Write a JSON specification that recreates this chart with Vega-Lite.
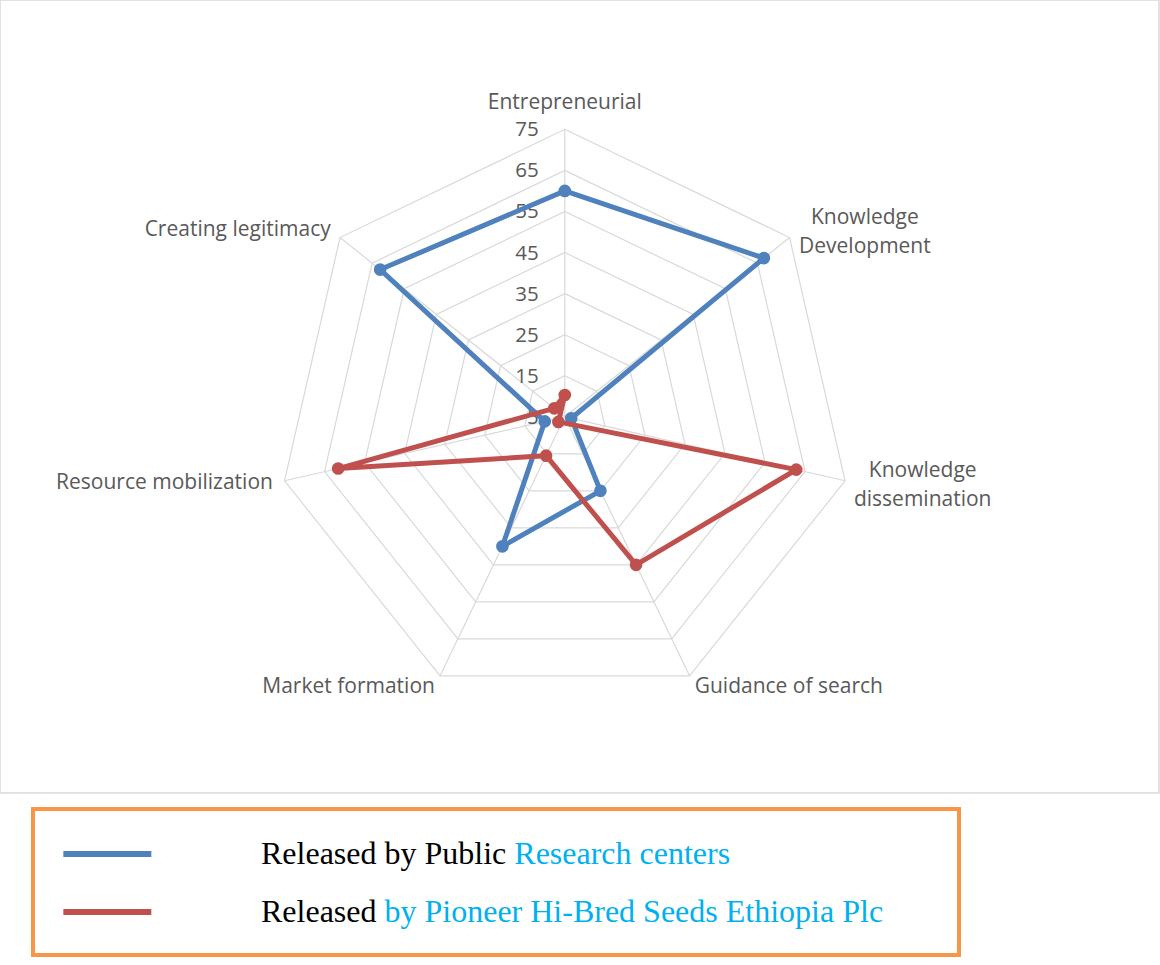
{
  "$schema": "https://vega.github.io/schema/vega-lite/v6.json",
  "width": 1159,
  "height": 793,
  "autosize": {"type": "none"},
  "padding": {"left": 0, "top": 0, "right": 1, "bottom": 172},
  "background": "white",
  "datasets": {
    "axes": [
      {"axis": "Entrepreneurial", "label": "Entrepreneurial", "i": 0},
      {"axis": "Knowledge Development", "label": "Knowledge\nDevelopment", "i": 1},
      {"axis": "Knowledge dissemination", "label": "Knowledge\ndissemination", "i": 2},
      {"axis": "Guidance of search", "label": "Guidance of search", "i": 3},
      {"axis": "Market formation", "label": "Market formation", "i": 4},
      {"axis": "Resource mobilization", "label": "Resource mobilization", "i": 5},
      {"axis": "Creating legitimacy", "label": "Creating legitimacy", "i": 6}
    ],
    "rings": [
      {"level": 15, "i": [0, 1, 2, 3, 4, 5, 6]},
      {"level": 25, "i": [0, 1, 2, 3, 4, 5, 6]},
      {"level": 35, "i": [0, 1, 2, 3, 4, 5, 6]},
      {"level": 45, "i": [0, 1, 2, 3, 4, 5, 6]},
      {"level": 55, "i": [0, 1, 2, 3, 4, 5, 6]},
      {"level": 65, "i": [0, 1, 2, 3, 4, 5, 6]},
      {"level": 75, "i": [0, 1, 2, 3, 4, 5, 6]}
    ],
    "ticks": [
      {"level": 75}, {"level": 65}, {"level": 55}, {"level": 45},
      {"level": 35}, {"level": 25}, {"level": 15}, {"level": 5}
    ],
    "scores": [
      {"series": "Released by Public Research centers", "axis": "Entrepreneurial", "i": 0, "value": 60},
      {"series": "Released by Public Research centers", "axis": "Knowledge Development", "i": 1, "value": 67},
      {"series": "Released by Public Research centers", "axis": "Knowledge dissemination", "i": 2, "value": 6.6},
      {"series": "Released by Public Research centers", "axis": "Guidance of search", "i": 3, "value": 25},
      {"series": "Released by Public Research centers", "axis": "Market formation", "i": 4, "value": 40},
      {"series": "Released by Public Research centers", "axis": "Resource mobilization", "i": 5, "value": 10},
      {"series": "Released by Public Research centers", "axis": "Creating legitimacy", "i": 6, "value": 62.5},
      {"series": "Released by Pioneer Hi-Bred Seeds Ethiopia Plc", "axis": "Entrepreneurial", "i": 0, "value": 10.3},
      {"series": "Released by Pioneer Hi-Bred Seeds Ethiopia Plc", "axis": "Knowledge Development", "i": 1, "value": 3},
      {"series": "Released by Pioneer Hi-Bred Seeds Ethiopia Plc", "axis": "Knowledge dissemination", "i": 2, "value": 62.8},
      {"series": "Released by Pioneer Hi-Bred Seeds Ethiopia Plc", "axis": "Guidance of search", "i": 3, "value": 45},
      {"series": "Released by Pioneer Hi-Bred Seeds Ethiopia Plc", "axis": "Market formation", "i": 4, "value": 15.5},
      {"series": "Released by Pioneer Hi-Bred Seeds Ethiopia Plc", "axis": "Resource mobilization", "i": 5, "value": 61.6},
      {"series": "Released by Pioneer Hi-Bred Seeds Ethiopia Plc", "axis": "Creating legitimacy", "i": 6, "value": 8.3}
    ],
    "legendrest": [
      {"rest": "Research centers"},
      {"rest": "by Pioneer Hi-Bred Seeds Ethiopia Plc"}
    ]
  },
  "layer": [
    {
      "data": {"name": "rings"},
      "transform": [
        {"flatten": ["i"]},
        {"calculate": "(datum.level - 5) * sin(datum.i * 2 * PI / 7)", "as": "x"},
        {"calculate": "(datum.level - 5) * cos(datum.i * 2 * PI / 7)", "as": "y"}
      ],
      "mark": {"type": "line", "interpolate": "linear-closed", "stroke": "#d9d9d9", "strokeWidth": 1.2},
      "encoding": {
        "x": {"field": "x", "type": "quantitative", "scale": {"domain": [-137.52, 144.68], "nice": false, "zero": false}, "axis": null},
        "y": {"field": "y", "type": "quantitative", "scale": {"domain": [-91.6, 101.49], "nice": false, "zero": false}, "axis": null},
        "detail": {"field": "level", "type": "nominal"},
        "order": {"field": "i", "type": "quantitative"}
      }
    },
    {
      "data": {"name": "axes"},
      "transform": [
        {"calculate": "70 * sin(datum.i * 2 * PI / 7)", "as": "ox"},
        {"calculate": "70 * cos(datum.i * 2 * PI / 7)", "as": "oy"},
        {"calculate": "0", "as": "cx"}
      ],
      "mark": {"type": "rule", "stroke": "#d9d9d9", "strokeWidth": 1.2},
      "encoding": {
        "x": {"field": "ox", "type": "quantitative"},
        "y": {"field": "oy", "type": "quantitative"},
        "x2": {"field": "cx"},
        "y2": {"field": "cx"}
      }
    },
    {
      "data": {"name": "ticks"},
      "transform": [
        {"calculate": "datum.level - 5", "as": "r"},
        {"calculate": "0", "as": "cx"}
      ],
      "mark": {"type": "text", "align": "right", "baseline": "middle", "dx": -26, "dy": 1, "font": "Open Sans", "fontSize": 20.5, "color": "#595959"},
      "encoding": {
        "x": {"field": "cx", "type": "quantitative"},
        "y": {"field": "r", "type": "quantitative"},
        "text": {"field": "level", "type": "quantitative"}
      }
    },
    {
      "data": {"name": "axes"},
      "transform": [
        {"calculate": "72.9 * sin(datum.i * 2 * PI / 7)", "as": "lx"},
        {"calculate": "72.9 * cos(datum.i * 2 * PI / 7)", "as": "ly"},
        {"filter": "datum.i == 0"}
      ],
      "mark": {"type": "text", "align": "center", "baseline": "middle", "dy": -14, "font": "Open Sans", "fontSize": 21, "color": "#595959"},
      "encoding": {
        "x": {"field": "lx", "type": "quantitative"},
        "y": {"field": "ly", "type": "quantitative"},
        "text": {"field": "label", "type": "nominal"}
      }
    },
    {
      "data": {"name": "axes"},
      "transform": [
        {"calculate": "72.9 * sin(datum.i * 2 * PI / 7)", "as": "lx"},
        {"calculate": "72.9 * cos(datum.i * 2 * PI / 7)", "as": "ly"},
        {"filter": "datum.i == 1 || datum.i == 2"}
      ],
      "mark": {"type": "text", "align": "center", "baseline": "middle", "dx": 66, "dy": -12, "lineBreak": "\n", "lineHeight": 29, "font": "Open Sans", "fontSize": 21, "color": "#595959"},
      "encoding": {
        "x": {"field": "lx", "type": "quantitative"},
        "y": {"field": "ly", "type": "quantitative"},
        "text": {"field": "label", "type": "nominal"}
      }
    },
    {
      "data": {"name": "axes"},
      "transform": [
        {"calculate": "72.9 * sin(datum.i * 2 * PI / 7)", "as": "lx"},
        {"calculate": "72.9 * cos(datum.i * 2 * PI / 7)", "as": "ly"},
        {"filter": "datum.i == 3"}
      ],
      "mark": {"type": "text", "align": "left", "baseline": "middle", "font": "Open Sans", "fontSize": 21, "color": "#595959"},
      "encoding": {
        "x": {"field": "lx", "type": "quantitative"},
        "y": {"field": "ly", "type": "quantitative"},
        "text": {"field": "label", "type": "nominal"}
      }
    },
    {
      "data": {"name": "axes"},
      "transform": [
        {"calculate": "72.9 * sin(datum.i * 2 * PI / 7)", "as": "lx"},
        {"calculate": "72.9 * cos(datum.i * 2 * PI / 7)", "as": "ly"},
        {"filter": "datum.i >= 4"}
      ],
      "mark": {"type": "text", "align": "right", "baseline": "middle", "font": "Open Sans", "fontSize": 21, "color": "#595959"},
      "encoding": {
        "x": {"field": "lx", "type": "quantitative"},
        "y": {"field": "ly", "type": "quantitative"},
        "text": {"field": "label", "type": "nominal"}
      }
    },
    {
      "data": {"name": "scores"},
      "transform": [
        {"filter": "datum.series == 'Released by Public Research centers'"},
        {"calculate": "(datum.value - 5) * sin(datum.i * 2 * PI / 7)", "as": "x"},
        {"calculate": "(datum.value - 5) * cos(datum.i * 2 * PI / 7)", "as": "y"}
      ],
      "mark": {"type": "line", "interpolate": "linear-closed", "strokeWidth": 5},
      "encoding": {
        "x": {"field": "x", "type": "quantitative"},
        "y": {"field": "y", "type": "quantitative"},
        "order": {"field": "i", "type": "quantitative"},
        "color": {
          "field": "series", "type": "nominal",
          "scale": {"domain": ["Released by Public Research centers", "Released by Pioneer Hi-Bred Seeds Ethiopia Plc"], "range": ["#4f81bd", "#c0504d"]},
          "legend": {
            "orient": "none", "legendX": 33, "legendY": 809, "direction": "vertical",
            "title": " ", "titleOrient": "right", "titleFontSize": 1, "titlePadding": 426,
            "symbolType": "M-1,0H5", "symbolSize": 860, "symbolStrokeWidth": 6,
            "labelFont": "Liberation Serif", "labelFontSize": 32, "labelColor": "#000000",
            "labelOffset": 165, "labelLimit": 1000,
            "labelExpr": "datum.label == 'Released by Public Research centers' ? 'Released by Public' : 'Released'",
            "rowPadding": 24, "padding": 27, "strokeColor": "#f79646", "zindex": 1
          }
        }
      }
    },
    {
      "data": {"name": "scores"},
      "transform": [
        {"filter": "datum.series == 'Released by Public Research centers'"},
        {"calculate": "(datum.value - 5) * sin(datum.i * 2 * PI / 7)", "as": "x"},
        {"calculate": "(datum.value - 5) * cos(datum.i * 2 * PI / 7)", "as": "y"}
      ],
      "mark": {"type": "point", "filled": true, "size": 160, "opacity": 1},
      "encoding": {
        "x": {"field": "x", "type": "quantitative"},
        "y": {"field": "y", "type": "quantitative"},
        "color": {"field": "series", "type": "nominal", "legend": null}
      }
    },
    {
      "data": {"name": "scores"},
      "transform": [
        {"filter": "datum.series == 'Released by Pioneer Hi-Bred Seeds Ethiopia Plc'"},
        {"calculate": "(datum.value - 5) * sin(datum.i * 2 * PI / 7)", "as": "x"},
        {"calculate": "(datum.value - 5) * cos(datum.i * 2 * PI / 7)", "as": "y"}
      ],
      "mark": {"type": "line", "interpolate": "linear-closed", "strokeWidth": 5},
      "encoding": {
        "x": {"field": "x", "type": "quantitative"},
        "y": {"field": "y", "type": "quantitative"},
        "order": {"field": "i", "type": "quantitative"},
        "color": {"field": "series", "type": "nominal", "legend": null}
      }
    },
    {
      "data": {"name": "scores"},
      "transform": [
        {"filter": "datum.series == 'Released by Pioneer Hi-Bred Seeds Ethiopia Plc'"},
        {"calculate": "(datum.value - 5) * sin(datum.i * 2 * PI / 7)", "as": "x"},
        {"calculate": "(datum.value - 5) * cos(datum.i * 2 * PI / 7)", "as": "y"}
      ],
      "mark": {"type": "point", "filled": true, "size": 160, "opacity": 1},
      "encoding": {
        "x": {"field": "x", "type": "quantitative"},
        "y": {"field": "y", "type": "quantitative"},
        "color": {"field": "series", "type": "nominal", "legend": null}
      }
    },
    {
      "data": {"name": "legendrest"},
      "transform": [{"filter": "datum.rest == 'Research centers'"}],
      "mark": {"type": "point", "opacity": 0},
      "encoding": {
        "shape": {
          "field": "rest", "type": "nominal",
          "scale": {"domain": ["Research centers"], "range": ["M-1,0H5"]},
          "legend": {
            "orient": "none", "legendX": 286.3, "legendY": 809, "direction": "vertical", "title": null,
            "symbolSize": 860, "symbolStrokeWidth": 6, "symbolStrokeColor": "#000000", "symbolOpacity": 0,
            "labelFont": "Liberation Serif", "labelFontSize": 32, "labelColor": "#00b0f0",
            "labelOffset": 165, "labelLimit": 1000,
            "rowPadding": 24, "padding": 27, "strokeColor": "transparent", "zindex": 2
          }
        }
      }
    },
    {
      "data": {"name": "legendrest"},
      "transform": [{"filter": "datum.rest == 'by Pioneer Hi-Bred Seeds Ethiopia Plc'"}],
      "mark": {"type": "point", "opacity": 0, "filled": true},
      "encoding": {
        "fill": {
          "field": "rest", "type": "nominal",
          "scale": {"domain": ["by Pioneer Hi-Bred Seeds Ethiopia Plc"], "range": ["#00b0f0"]},
          "legend": {
            "orient": "none", "legendX": 156.5, "legendY": 867, "direction": "vertical", "title": null,
            "symbolType": "M-1,0H5", "symbolSize": 860, "symbolStrokeWidth": 6, "symbolStrokeColor": "#000000", "symbolOpacity": 0,
            "labelFont": "Liberation Serif", "labelFontSize": 32, "labelColor": "#00b0f0",
            "labelOffset": 165, "labelLimit": 1000,
            "rowPadding": 24, "padding": 27, "strokeColor": "transparent", "zindex": 2
          }
        }
      }
    }
  ],
  "config": {
    "view": {"stroke": "#d9d9d9", "strokeWidth": 1.5},
    "legend": {"strokeWidth": 4},
    "font": "Open Sans"
  }
}
